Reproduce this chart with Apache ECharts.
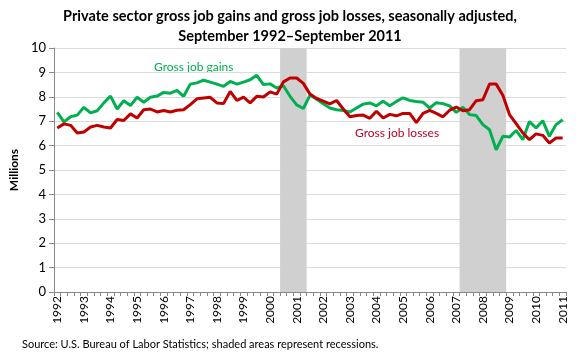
<!DOCTYPE html>
<html><head><meta charset="utf-8">
<script src="https://cdn.jsdelivr.net/npm/echarts@6/dist/echarts.min.js"></script>
<style>html,body{margin:0;padding:0;background:#fff}#c{width:580px;height:360px}</style>
</head><body><div id="c"></div>
<script>
// Quarterly categories, Sep 1992 – Sep 2011
const months = ["Sep", "Dec", "Mar", "Jun"];
const startYear = 1992;
const quarterCount = 77;
const categories = [];
for (let i = 0; i < quarterCount; i++) {
  const m = months[i % 4];
  const y = startYear + Math.floor(i / 4) + (i % 4 >= 2 ? 1 : 0);
  categories.push(m + " " + y);
}

const grossJobGains = [7.36,6.97,7.18,7.25,7.57,7.34,7.43,7.75,8.03,7.5,7.84,7.64,7.98,7.78,7.98,8.03,8.18,8.15,8.26,8.02,
  8.52,8.57,8.68,8.6,8.52,8.43,8.63,8.52,8.6,8.7,8.88,8.5,8.53,8.36,8.45,8.02,7.67,7.52,8.07,7.9,
  7.72,7.54,7.47,7.44,7.38,7.54,7.7,7.75,7.63,7.82,7.63,7.81,7.96,7.85,7.81,7.78,7.54,7.76,7.72,7.63,
  7.36,7.57,7.27,7.23,6.86,6.65,5.83,6.38,6.35,6.62,6.24,6.99,6.72,7.02,6.38,6.86,7.06];

const grossJobLosses = [6.72,6.89,6.83,6.52,6.56,6.76,6.83,6.76,6.72,7.07,7.03,7.3,7.13,7.47,7.5,7.38,7.44,7.38,7.45,7.47,
  7.68,7.92,7.95,7.98,7.75,7.72,8.22,7.85,7.99,7.75,8.02,7.99,8.2,8.11,8.61,8.77,8.77,8.55,8.11,7.93,
  7.82,7.71,7.85,7.5,7.18,7.23,7.25,7.12,7.41,7.13,7.28,7.22,7.32,7.32,6.94,7.32,7.44,7.32,7.18,7.45,
  7.58,7.43,7.47,7.84,7.88,8.52,8.52,8.06,7.27,6.9,6.52,6.24,6.48,6.42,6.11,6.31,6.31];

// Recessions (first and last shaded quarter)
const recessionStarts = ["Mar 2001", "Dec 2007"];
const recessionEnds = ["Dec 2001", "Jun 2009"];

const yTicks = [0,1,2,3,4,5,6,7,8,9,10];
const yMin = yTicks[0], yMax = yTicks[yTicks.length - 1];

const recessionData = recessionStarts.map((s, k) => [categories.indexOf(s), categories.indexOf(recessionEnds[k])]);

const chart = echarts.init(document.getElementById('c'), null, {renderer: 'canvas'});
const fam = "Lato, 'Open Sans', sans-serif";
chart.setOption({
  animation: false,
  textStyle: {fontFamily: fam},
  title: {
    text: "Private sector gross job gains and gross job losses, seasonally adjusted,\nSeptember 1992\u2013September 2011",
    left: 'center', top: 1,
    textStyle: {fontSize: 14.5, fontWeight: 'bold', color: '#000', lineHeight: 20, fontFamily: fam}
  },
  grid: {left: 49, right: 14, top: 48, bottom: 68},
  xAxis: {
    type: 'category', data: categories, boundaryGap: true,
    axisLine: {lineStyle: {color: '#888', width: 1}},
    axisTick: {show: true, interval: 0, length: 4, lineStyle: {color: '#888'}},
    axisLabel: {interval: 3, rotate: 90, fontSize: 12, color: '#000', margin: 4,
      formatter: v => v.split(' ')[1]}
  },
  yAxis: {
    type: 'value', min: yMin, max: yMax, interval: 1,
    name: 'Millions', nameLocation: 'middle', nameGap: 30, nameRotate: 90,
    nameTextStyle: {fontWeight: 'bold', fontSize: 12, color: '#000'},
    axisLine: {show: true, lineStyle: {color: '#888'}},
    axisTick: {show: true, inside: false, length: 5, lineStyle: {color: '#888'}},
    axisLabel: {fontSize: 13, color: '#000', margin: 8},
    splitLine: {lineStyle: {color: '#dcdcdc', width: 1}}
  },
  series: [
    {type: 'custom', data: recessionData, silent: true, z: 1,
      renderItem: function (params, api) {
        const a = api.coord([api.value(0), yMax]);
        const b = api.coord([api.value(1), yMin]);
        const w = api.size([1, 0])[0];
        return {type: 'rect', shape: {x: a[0] - w / 2, y: a[1], width: b[0] - a[0] + w, height: b[1] - a[1]},
          style: {fill: '#d0d0d0'}};
      }},
    {type: 'line', name: 'Gross job gains', data: grossJobGains, showSymbol: false,
      lineStyle: {color: '#00b050', width: 3}, itemStyle: {color: '#00b050'}, z: 3},
    {type: 'line', name: 'Gross job losses', data: grossJobLosses, showSymbol: false,
      lineStyle: {color: '#c00000', width: 3}, itemStyle: {color: '#c00000'}, z: 4}
  ],
  graphic: [
    {type: 'text', left: 154, top: 61, style: {text: 'Gross job gains', fill: '#00b050', font: "12px " + fam}},
    {type: 'text', left: 355, top: 127, style: {text: 'Gross job losses', fill: '#c0002a', font: "12px " + fam}},
    {type: 'text', left: 22, top: 339, style: {text: 'Source: U.S. Bureau of Labor Statistics; shaded areas represent recessions.', fill: '#000', font: "11px " + fam}}
  ]
});
</script></body></html>
